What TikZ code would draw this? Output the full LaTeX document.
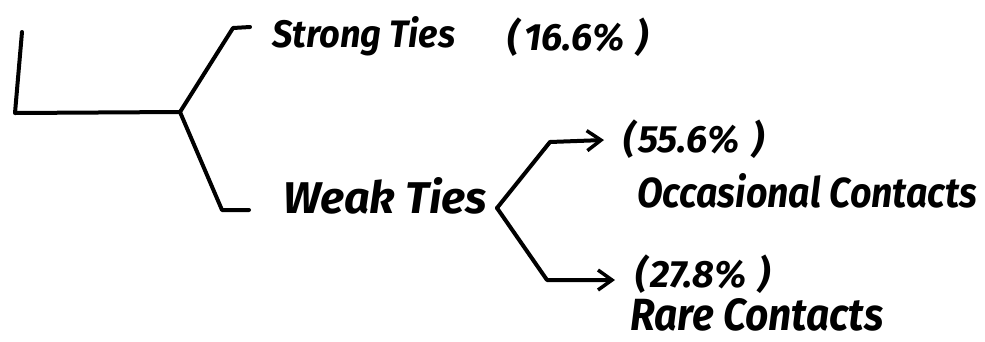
\documentclass[tikz,border=0pt]{standalone}
\usepackage{fontspec}
\setmainfont{Fira Sans}
\usepackage{graphicx}
\usetikzlibrary{arrows.meta}
\begin{document}
\begin{tikzpicture}[x=1pt,y=-1pt,
  inkline/.style={line width=4pt, line cap=round, line join=round},
  arr/.style={inkline, -{Straight Barb[length=14pt,width=20pt,line width=3.5pt]}},
  lbl/.style={anchor=base west, inner sep=0pt, font=\bfseries\itshape},
  pct/.style={lbl, font=\bfseries\itshape\fontsize{38}{42}\selectfont}]
\useasboundingbox (0,0) rectangle (985,341);
% text nodes
\node[lbl] (strong) at (272,47) {\resizebox{183pt}{31pt}{Strong Ties}};
\node[pct] (strongpct) at (507,50) {(\hspace{5pt}16.6\%\hspace{12pt})};
\node[lbl] (weak) at (283,213) {\resizebox{204pt}{36pt}{Weak Ties}};
\node[pct] (occpct) at (623,152) {(\hspace{3pt}55.6\%\hspace{12pt})};
\node[pct] (occ) at (637,207) {\resizebox{340pt}{34pt}{Occasional Contacts}};
\node[pct] (rarepct) at (635,287) {(\hspace{3pt}27.8\%\hspace{12pt})};
\node[lbl] (rare) at (630,330) {\resizebox{253pt}{32pt}{Rare Contacts}};
% left bracket
\coordinate (top) at (22,32);
\coordinate (corner) at (15,113);
\coordinate (fork) at (180,112);
\coordinate (upbend) at (233,28);
\coordinate (upend) at (250,27);
\coordinate (dnbend) at (222,210);
\coordinate (dnend) at (249,210);
\draw[inkline] (top) -- (corner) -- (fork) -- (upbend) -- (upend);
\draw[inkline] (fork) -- (dnbend) -- (dnend);
% right bracket with arrows
\coordinate (v) at (497,208);
\coordinate (ub) at (550,142);
\coordinate (ut) at (604,140);
\coordinate (lb) at (547,280);
\coordinate (lt) at (615,280);
\draw[arr] (v) -- (ub) -- (ut);
\draw[arr] (v) -- (lb) -- (lt);
\end{tikzpicture}
\end{document}
